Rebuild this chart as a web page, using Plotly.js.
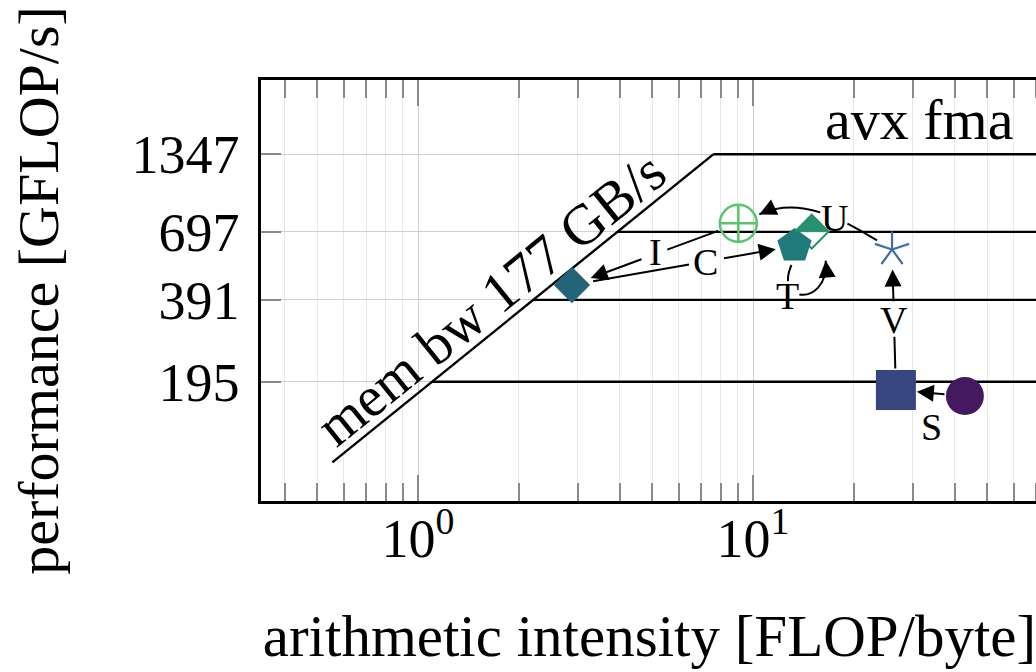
<!DOCTYPE html>
<html><head><meta charset="utf-8">
<script src="https://cdn.plot.ly/plotly-3.0.1.min.js"></script>
<style>html,body{margin:0;padding:0;overflow:hidden;background:#fff;width:1036px;height:672px}#chart{width:1040px;height:672px}</style>
</head><body><div id="chart"></div>
<script>
// ---------------- data ----------------
const pointNames  = ['baseline', 'S', 'V', 'U', 'I', 'C', 'T'];
const intensity   = [42.9, 26.7, 26.0, 9.04, 2.88, 13.3, 14.97];   // FLOP/byte
const performance = [172.7, 181.7, 600, 749, 443.6, 618, 698];     // GFLOP/s

const edgeLabels = ['S', 'V', 'U', 'I', 'C', 'T'];
const edgeFrom   = [0, 1, 2, 3, 4, 5];
const edgeTo     = [1, 2, 3, 4, 5, 6];

const ceilingPeaks  = [1347, 697, 391, 195];   // GFLOP/s
const ceilingLabel  = 'avx fma';
const memBandwidth  = 177;                     // GB/s
const memLabel      = 'mem bw 177 GB/s';
const memLineStartX = 0.555;
const roofEndX      = 200;

const xTickVals  = [0.1, 1, 10, 100];
const xTickText  = ['10<sup>-1</sup>', '10<sup>0</sup>', '10<sup>1</sup>', '10<sup>2</sup>'];
const xMinorVals = [0.4, 0.5, 0.6, 0.7, 0.8, 0.9, 2, 3, 4, 5, 6, 7, 8, 9, 20, 30, 40, 50, 60, 70, 80, 90];
const yTickVals  = [195, 391, 697, 1347];
const yTickText  = ['195', '391', '697', '1347'];

// ---------------- styles ----------------
const SERIF = '"Liberation Serif", "DejaVu Serif", serif';
const markerSymbol = ['circle', 'square', 'circle', 'circle-cross-open', 'diamond', 'pentagon', 'diamond'];
const markerColor  = ['#45195f', '#37467f', 'rgba(0,0,0,0)', '#5cc46c', '#236478', '#1f7a79', '#ffffff'];
const markerLine   = ['#45195f', '#37467f', 'rgba(0,0,0,0)', '#5cc46c', '#236478', '#1f7a79', '#27906f'];
const markerLineW  = [0, 0, 0, 2.5, 0, 0, 2];
const markerSize   = [38, 40, 18, 37, 28, 36, 26];
const drawOrder    = [0, 1, 2, 3, 4, 6, 5];
const starColor = '#3d6fa8';
const halfFill  = '#27906f';

// plot geometry (pixels) and axis ranges (log10)
const FIG_W = 1040, FIG_H = 672;
const L = 261, T = 80, W = 777, H = 421;
const SX = 335, SY = 270.9;
const XR = [-0.4687, -0.4687 + W / SX];
const YR = [3.4037 - H / SY, 3.4037];

const px = v => L + (Math.log10(v) - XR[0]) * SX;
const py = v => T + (YR[1] - Math.log10(v)) * SY;
const lx = p => XR[0] + (p - L) / SX;
const ly = p => YR[1] - (p - T) / SY;

// ---------------- traces ----------------
const traces = [];
const kneeX = ceilingPeaks[0] / memBandwidth;
const memX = [memLineStartX, kneeX];
traces.push({x: memX, y: memX.map(v => v * memBandwidth), mode: 'lines',
  line: {color: '#000', width: 2.4}, hoverinfo: 'skip'});
ceilingPeaks.forEach(p => {
  traces.push({x: [p / memBandwidth, roofEndX], y: [p, p], mode: 'lines',
    line: {color: '#000', width: 2.4}, hoverinfo: 'skip'});
});
traces.push({
  x: drawOrder.map(i => intensity[i]),
  y: drawOrder.map(i => performance[i]),
  text: drawOrder.map(i => pointNames[i]),
  mode: 'markers', hoverinfo: 'text+x+y',
  marker: {
    opacity: 1,
    symbol: drawOrder.map(i => markerSymbol[i]),
    color: drawOrder.map(i => markerColor[i]),
    size: drawOrder.map(i => markerSize[i]),
    line: {color: drawOrder.map(i => markerLine[i]), width: drawOrder.map(i => markerLineW[i])}
  }
});

// ---------------- shapes & annotations ----------------
const shapes = [];
const anns = [];

// 5-arm asterisk for point V
(function () {
  const r = 18; let path = '';
  [90, 18, 162, -54, -126].forEach(a => {
    const rad = a * Math.PI / 180;
    path += 'M0,0L' + (r * Math.cos(rad)).toFixed(2) + ',' + (r * Math.sin(rad)).toFixed(2);
  });
  shapes.push({type: 'path', xref: 'x', yref: 'y', xsizemode: 'pixel', ysizemode: 'pixel',
    xanchor: intensity[2], yanchor: performance[2], path: path,
    line: {color: starColor, width: 2.2}, layer: 'above'});
})();
// filled upper half of the diamond for point T
(function () {
  const h = markerSize[6] * 1.3 / 2;
  shapes.push({type: 'path', xref: 'x', yref: 'y', xsizemode: 'pixel', ysizemode: 'pixel',
    xanchor: intensity[6], yanchor: performance[6],
    path: 'M' + (-h) + ',0L' + h + ',0L0,' + h + 'Z',
    fillcolor: halfFill, line: {color: halfFill, width: 1}, layer: 'above'});
})();

function seg(x0, y0, x1, y1, head) {
  return {x: lx(x1), y: ly(y1), ax: lx(x0), ay: ly(y0), xref: 'x', yref: 'y', axref: 'x', ayref: 'y',
    showarrow: true, arrowhead: head, arrowsize: 1.7, arrowwidth: 2, arrowcolor: '#000', text: ''};
}
function label(txt, X, Y) {
  return {x: lx(X), y: ly(Y), xref: 'x', yref: 'y', showarrow: false, text: txt,
    font: {family: SERIF, size: 38, color: '#000'}, xanchor: 'center', yanchor: 'middle'};
}

const straightStyle = {
  S: {s0: 19, s1: 21, gap: 0, fm: 0.5, off: [0, 34]},
  V: {s0: 20, s1: 20, gap: 17, fm: 0.5, off: [0, 0]},
  I: {s0: 20, s1: 20, gap: 13, fm: 0.5, off: [0, -2]},
  C: {s0: 20, s1: 19, gap: 17, fm: 0.62, off: [0, 0]}
};

function bez(P, t) {
  const u = 1 - t;
  const a = u * u * u, b = 3 * t * u * u, c = 3 * t * t * u, d = t * t * t;
  return [a * P[0][0] + b * P[1][0] + c * P[2][0] + d * P[3][0],
          a * P[0][1] + b * P[1][1] + c * P[2][1] + d * P[3][1]];
}
function lerp(a, b, t) { return [a[0] + (b[0] - a[0]) * t, a[1] + (b[1] - a[1]) * t]; }
function splitLeft(P, t) {
  const p01 = lerp(P[0], P[1], t), p12 = lerp(P[1], P[2], t), p23 = lerp(P[2], P[3], t);
  const p012 = lerp(p01, p12, t), p123 = lerp(p12, p23, t), m = lerp(p012, p123, t);
  return [P[0], p01, p012, m];
}
function splitRight(P, t) {
  const p01 = lerp(P[0], P[1], t), p12 = lerp(P[1], P[2], t), p23 = lerp(P[2], P[3], t);
  const p012 = lerp(p01, p12, t), p123 = lerp(p12, p23, t), m = lerp(p012, p123, t);
  return [m, p123, p23, P[3]];
}
function subBez(P, t0, t1) {
  const left = splitLeft(P, t1);
  return splitRight(left, t0 / t1);
}
function curveShape(Q, anchorIdx) {
  const ax = px(intensity[anchorIdx]), ay = py(performance[anchorIdx]);
  const r = p => (p[0] - ax).toFixed(2) + ',' + (-(p[1] - ay)).toFixed(2);
  return {type: 'path', xref: 'x', yref: 'y', xsizemode: 'pixel', ysizemode: 'pixel',
    xanchor: intensity[anchorIdx], yanchor: performance[anchorIdx],
    path: 'M' + r(Q[0]) + 'C' + r(Q[1]) + ' ' + r(Q[2]) + ' ' + r(Q[3]),
    line: {color: '#000', width: 2}, layer: 'above'};
}

const curveStyle = {
  U: {p0: [-15, -9], p3: [21, -9], c1: [-30, -18], c2: [42, -20], tm: 0.4, g0: 0.29, g1: 0.52, off: [0, 0]},
  T: {p0: [-3, 19], p3: [14, 29], c1: [-18, 40], c2: [4, 45], tm: 0.3, g0: 0.16, g1: 0.44, off: [-4, 6]}
};

edgeLabels.forEach((lab, k) => {
  const i = edgeFrom[k], j = edgeTo[k];
  const A = [px(intensity[i]), py(performance[i])];
  const B = [px(intensity[j]), py(performance[j])];
  if (straightStyle[lab]) {
    const s = straightStyle[lab];
    const dx = B[0] - A[0], dy = B[1] - A[1], len = Math.hypot(dx, dy);
    const ux = dx / len, uy = dy / len;
    const S0 = [A[0] + ux * s.s0, A[1] + uy * s.s0], E = [B[0] - ux * s.s1, B[1] - uy * s.s1];
    const M = lerp(S0, E, s.fm);
    if (s.gap > 0) {
      anns.push(seg(S0[0], S0[1], M[0] - ux * s.gap, M[1] - uy * s.gap, 0));
      anns.push(seg(M[0] + ux * s.gap, M[1] + uy * s.gap, E[0], E[1], 2));
    } else {
      anns.push(seg(S0[0], S0[1], E[0], E[1], 2));
    }
    anns.push(label(lab, M[0] + s.off[0], M[1] + s.off[1]));
  } else {
    const c = curveStyle[lab];
    const P0 = [A[0] + c.p0[0], A[1] + c.p0[1]];
    const P3 = [B[0] + c.p3[0], B[1] + c.p3[1]];
    const C1 = [P0[0] + c.c1[0], P0[1] + c.c1[1]];
    const C2 = [P3[0] + c.c2[0], P3[1] + c.c2[1]];
    const P = [P0, C1, C2, P3];
    shapes.push(curveShape(subBez(P, 0.0001, c.g0), i));
    shapes.push(curveShape(subBez(P, c.g1, 1), i));
    const dx = C2[0] - P3[0], dy = C2[1] - P3[1], len = Math.hypot(dx, dy);
    anns.push(seg(P3[0] + dx / len * 14, P3[1] + dy / len * 14, P3[0], P3[1], 2));
    const M = bez(P, c.tm);
    anns.push(label(lab, M[0] + c.off[0], M[1] + c.off[1]));
  }
});

// roofline labels
anns.push({x: (1015 - L) / W, xref: 'paper', y: Math.log10(ceilingPeaks[0]), yref: 'y', xanchor: 'right', yanchor: 'bottom',
  showarrow: false, text: ceilingLabel, font: {family: SERIF, size: 58, color: '#000'}});
(function () {
  const memLabelX = 1.86;
  const angle = Math.atan(SY / SX) * 180 / Math.PI;
  const d = 28, rad = angle * Math.PI / 180;
  anns.push({x: Math.log10(memLabelX), y: Math.log10(memLabelX * memBandwidth), xref: 'x', yref: 'y',
    xshift: -d * Math.sin(rad), yshift: d * Math.cos(rad), textangle: -angle,
    showarrow: false, text: memLabel, xanchor: 'center', yanchor: 'middle',
    font: {family: SERIF, size: 57, color: '#000'}});
})();

// ---------------- layout ----------------
const layout = {
  width: FIG_W, height: FIG_H, autosize: false,
  margin: {l: L, r: FIG_W - L - W, t: T, b: FIG_H - T - H, pad: 0},
  paper_bgcolor: '#fff', plot_bgcolor: '#fff',
  showlegend: false, hovermode: 'closest',
  font: {family: SERIF, color: '#000'},
  xaxis: {
    type: 'log', range: XR, autorange: false, automargin: false,
    showline: true, linecolor: '#000', linewidth: 2.5, mirror: 'allticks',
    ticks: 'inside', ticklen: 26, tickwidth: 1.5, tickcolor: '#8a8a8a',
    tickmode: 'array', tickvals: xTickVals, ticktext: xTickText,
    showgrid: true, gridcolor: '#cfcfcf', gridwidth: 1.2, zeroline: false,
    tickfont: {family: SERIF, size: 54, color: '#000'}, ticklabelstandoff: -12,
    minor: {tickmode: 'array', tickvals: xMinorVals, ticks: 'inside', ticklen: 18, tickwidth: 1.5,
      tickcolor: '#8a8a8a', showgrid: true, gridcolor: '#e8e8e8', gridwidth: 1},
    title: {text: 'arithmetic intensity [FLOP/byte]', font: {family: SERIF, size: 59, color: '#000'}, standoff: 48}
  },
  yaxis: {
    type: 'log', range: YR, autorange: false, automargin: false,
    showline: true, linecolor: '#000', linewidth: 2.5, mirror: true,
    ticks: 'inside', ticklen: 20, tickwidth: 1.5, tickcolor: '#8a8a8a',
    tickmode: 'array', tickvals: yTickVals, ticktext: yTickText,
    showgrid: true, gridcolor: '#cfcfcf', gridwidth: 1.2, zeroline: false,
    tickfont: {family: SERIF, size: 54, color: '#000'}, ticklabelstandoff: 8,
    title: {text: 'performance [GFLOP/s]', font: {family: SERIF, size: 58, color: '#000'}, standoff: 55}
  },
  shapes: shapes,
  annotations: anns
};

Plotly.newPlot('chart', traces, layout, {displayModeBar: false});
</script>
</body></html>
